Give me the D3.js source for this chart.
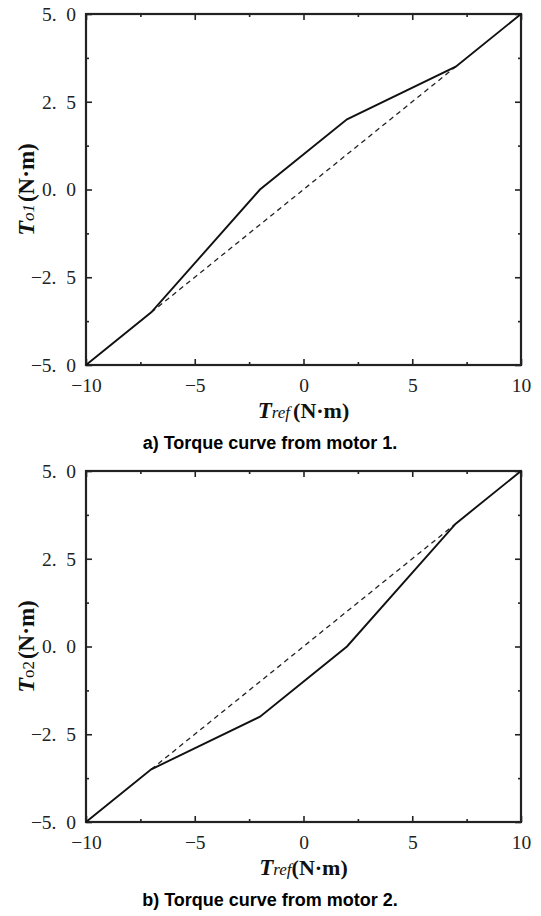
<!DOCTYPE html>
<html>
<head>
<meta charset="utf-8">
<script src="https://cdn.jsdelivr.net/npm/d3@7"></script>
<style>
  body { margin: 0; background: #fff; }
  svg { display: block; }
</style>
</head>
<body>
<svg id="chart"></svg>
<script>
// data
const refTorque = [-10, -7, -2, 2, 7, 10];
const motor1Torque = [-5, -3.5, 0, 2, 3.5, 5];
const motor2Torque = [-5, -3.5, -2, 0, 3.5, 5];
const idealRef = [-7, 7];
const idealOut = [-3.5, 3.5];

const xMajor = [-10, -5, 0, 5, 10];
const xMinor = [-7.5, -2.5, 2.5, 7.5];
const yMajor = [-5, -2.5, 0, 2.5, 5];
const yMinor = [-3.75, -1.25, 1.25, 3.75];
const xTickLabels = ["\u221210", "\u22125", "0", "5", "10"];
const yTickLabels = ["\u22125.\u20020", "\u22122.\u20025", "0.\u20020", "2.\u20025", "5.\u20020"];

const panels = [
    { top: 14, bottom: 365, out: motor1Torque, sub: "o1", subItalic: true, caption: "a) Torque curve from motor 1." },
    { top: 471, bottom: 822, out: motor2Torque, sub: "o2", subItalic: false, caption: "b) Torque curve from motor 2." }
];

const width = 541;
const height = 916;
const left = 86;
const right = 521;

const svg = d3.select("#chart")
    .attr("width", width)
    .attr("height", height);

panels.forEach(p => drawPanel(p));

function drawPanel(p) {
    const x = d3.scaleLinear().domain([-10, 10]).range([left, right]);
    const y = d3.scaleLinear().domain([-5, 5]).range([p.bottom, p.top]);
    const g = svg.append("g");

    // ticks on all four sides, pointing inwards
    const xAxes = [
        [d3.axisBottom(x), p.bottom, true],
        [d3.axisTop(x), p.top, false],
    ];
    xAxes.forEach(([ax, pos, labels]) => {
        g.append("g").attr("transform", `translate(0,${pos})`)
            .call(ax.tickValues(xMinor).tickSize(-3).tickFormat(""));
        g.append("g").attr("transform", `translate(0,${pos})`)
            .call(ax.tickValues(xMajor).tickSize(-6).tickPadding(13)
                .tickFormat((d, i) => labels ? xTickLabels[i] : ""));
    });
    const yAxes = [
        [d3.axisLeft(y), left, true],
        [d3.axisRight(y), right, false],
    ];
    yAxes.forEach(([ax, pos, labels]) => {
        g.append("g").attr("transform", `translate(${pos},0)`)
            .call(ax.tickValues(yMinor).tickSize(-3).tickFormat(""));
        g.append("g").attr("transform", `translate(${pos},0)`)
            .call(ax.tickValues(yMajor).tickSize(-6).tickPadding(10)
                .tickFormat((d, i) => labels ? yTickLabels[i] : ""));
    });

    g.selectAll(".domain").remove();
    g.selectAll(".tick line").attr("stroke", "#222").attr("stroke-width", 1.6);
    g.selectAll(".tick text")
        .attr("font-family", "'Liberation Serif', 'DejaVu Serif', serif")
        .attr("font-size", 19.5)
        .attr("fill", "#222");

    // frame
    g.append("rect")
        .attr("x", left).attr("y", p.top)
        .attr("width", right - left).attr("height", p.bottom - p.top)
        .attr("fill", "none").attr("stroke", "#222").attr("stroke-width", 2.2);

    // dashed ideal line
    g.append("path")
        .datum(idealRef.map((r, i) => [r, idealOut[i]]))
        .attr("d", d3.line().x(d => x(d[0])).y(d => y(d[1])))
        .attr("fill", "none").attr("stroke", "#222")
        .attr("stroke-width", 1.3).attr("stroke-dasharray", "5,4");

    // output torque
    g.append("path")
        .datum(refTorque.map((r, i) => [r, p.out[i]]))
        .attr("d", d3.line().x(d => x(d[0])).y(d => y(d[1])))
        .attr("fill", "none").attr("stroke", "#111").attr("stroke-width", 1.9);

    // x label
    const xl = g.append("text")
        .attr("x", x(0)).attr("y", p.bottom + 53)
        .attr("text-anchor", "middle")
        .attr("font-family", "'Liberation Serif', serif")
        .attr("fill", "#111");
    xl.append("tspan").text("T").attr("font-weight", "bold").attr("font-style", "italic").attr("font-size", 23);
    xl.append("tspan").text("ref").attr("font-style", "italic").attr("font-size", 17);
    xl.append("tspan").text("(N\u00b7m)").attr("font-weight", "bold").attr("font-size", 22).attr("dx", p.subItalic ? 3 : 0);

    // y label
    const yl = g.append("text")
        .attr("transform", `translate(34,${(p.top + p.bottom) / 2}) rotate(-90)`)
        .attr("text-anchor", "middle")
        .attr("font-family", "'Liberation Serif', serif")
        .attr("fill", "#111");
    yl.append("tspan").text("T").attr("font-weight", "bold").attr("font-style", "italic").attr("font-size", 24);
    yl.append("tspan").text(p.sub).attr("font-style", p.subItalic ? "italic" : "normal").attr("font-size", 17);
    yl.append("tspan").text("(N\u00b7m)").attr("font-weight", "bold").attr("font-size", 23).attr("dx", 2);

    // caption
    svg.append("text")
        .attr("x", 270).attr("y", p.bottom + 84)
        .attr("text-anchor", "middle")
        .attr("font-family", "'Liberation Sans', Arial, sans-serif")
        .attr("font-weight", "bold")
        .attr("font-size", 18)
        .attr("fill", "#000")
        .text(p.caption);
}
</script>
</body>
</html>
